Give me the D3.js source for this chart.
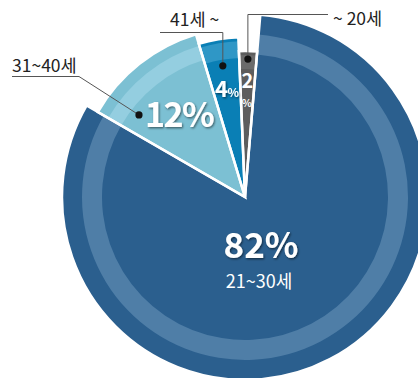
<!DOCTYPE html>
<html>
<head>
<meta charset="utf-8">
<script src="https://cdn.jsdelivr.net/npm/d3@7"></script>
<style>
  html, body { margin: 0; padding: 0; background: #fff; }
  svg { display: block; font-family: "Noto Sans CJK KR", "Noto Sans", sans-serif; }
</style>
</head>
<body>
<svg id="chart" width="418" height="378"></svg>
<script>
// Age groups and their share (%), in drawing order starting at the upper left
const categories = ["31~40세", "41세 ~", "~ 20세", "21~30세"];
const shares = [12, 4, 2, 82];

// Per-slice look: radius, lighter ring band and colours
const sliceStyles = [
  { outer: 170, bandIn: 143, bandOut: 158, fill: "#7cc0d3", band: "#94cee0" },
  { outer: 160, bandIn: 139, bandOut: 156, fill: "#0a7fb5", band: "#2f97c6" },
  { outer: 146, bandIn: 128, bandOut: 142, fill: "#5d5d5d", band: "#6b6b6b" },
  { outer: 183, bandIn: 143, bandOut: 163, fill: "#2b5f8e", band: "#4f7ea7" }
];

const cx = 245, cy = 197;
const deg = Math.PI / 180;

const svg = d3.select("#chart");

// soft drop shadow for the white percentages
const defs = svg.append("defs");
const f = defs.append("filter").attr("id", "shadow")
  .attr("x", "-20%").attr("y", "-20%").attr("width", "140%").attr("height", "140%");
f.append("feDropShadow").attr("dx", 1).attr("dy", 1.2)
  .attr("stdDeviation", 0.9).attr("flood-color", "#000").attr("flood-opacity", 0.55);

const data = categories.map((c, i) => ({ category: c, value: shares[i], style: sliceStyles[i] }));

const pie = d3.pie()
  .sort(null)
  .value(d => d.value)
  .startAngle(-60 * deg)
  .endAngle(300 * deg);

const arcs = pie(data);

const g = svg.append("g").attr("transform", `translate(${cx},${cy})`);

const sliceArc = d => d3.arc().innerRadius(0).outerRadius(d.data.style.outer)(d);
const bandArc = d => d3.arc().innerRadius(d.data.style.bandIn).outerRadius(d.data.style.bandOut)(d);
const pointAt = (d, r) => d3.arc().innerRadius(r).outerRadius(r).centroid(d);

// slice fills
g.selectAll("path.slice").data(arcs).join("path")
  .attr("class", "slice")
  .attr("d", sliceArc)
  .attr("fill", d => d.data.style.fill);

// lighter ring inside each slice
g.selectAll("path.band").data(arcs).join("path")
  .attr("class", "band")
  .attr("d", bandArc)
  .attr("fill", d => d.data.style.band);

// white separators
g.selectAll("path.edge").data(arcs).join("path")
  .attr("class", "edge")
  .attr("d", sliceArc)
  .attr("fill", "none")
  .attr("stroke", "#fff")
  .attr("stroke-width", 2.5)
  .attr("stroke-linejoin", "miter");

const [a12, a4, a2, a82] = arcs;

// ---- labels inside the slices ----
// big slice
g.append("text")
  .attr("x", 16).attr("y", 61)
  .attr("text-anchor", "middle")
  .attr("fill", "#fff")
  .attr("font-size", 35).attr("font-weight", 700)
  .attr("filter", "url(#shadow)")
  .text(`${a82.data.value}%`);
g.append("text")
  .attr("x", 14).attr("y", 91)
  .attr("text-anchor", "middle")
  .attr("fill", "#fff")
  .attr("font-size", 18)
  .text(a82.data.category);

// 12 %
const p12 = pointAt(a12, 106);
const t12 = g.append("text")
  .attr("x", p12[0]).attr("y", p12[1] + 13)
  .attr("text-anchor", "middle")
  .attr("fill", "#fff")
  .attr("font-size", 34).attr("font-weight", 700)
  .attr("letter-spacing", -1.5)
  .attr("filter", "url(#shadow)")
  .text(`${a12.data.value}%`);
const w12 = t12.node().getComputedTextLength();
const dot12 = [p12[0] - w12 / 2 - 6, p12[1] + 1];

// 4 %
const p4 = pointAt(a4, 110);
const t4 = g.append("text")
  .attr("x", p4[0]).attr("y", p4[1] + 8)
  .attr("text-anchor", "middle")
  .attr("fill", "#fff")
  .attr("font-weight", 700)
  .attr("letter-spacing", -0.5)
  .attr("filter", "url(#shadow)");
t4.append("tspan").attr("font-size", 22).text(a4.data.value);
t4.append("tspan").attr("font-size", 12).text("%");
const dot4 = pointAt(a4, 133);

// 2 %  (number stacked over the percent sign, the slice is narrow)
const p2 = pointAt(a2, 115);
g.append("text")
  .attr("x", p2[0]).attr("y", p2[1] + 6)
  .attr("text-anchor", "middle")
  .attr("fill", "#fff")
  .attr("font-size", 20).attr("font-weight", 700)
  .text(a2.data.value);
g.append("text")
  .attr("x", p2[0] - 0.5).attr("y", p2[1] + 25)
  .attr("text-anchor", "middle")
  .attr("fill", "#fff")
  .attr("font-size", 10.5).attr("font-weight", 700)
  .text("%");
const dot2 = pointAt(a2, 138);

// ---- outside labels with leader lines (page coordinates) ----
const toPage = p => [cx + p[0], cy + p[1]];
const d12 = toPage(dot12), d4 = toPage(dot4), d2 = toPage(dot2);

const lead = svg.append("g")
  .attr("fill", "none")
  .attr("stroke", "#555")
  .attr("stroke-width", 1);

// 31~40세
lead.append("polyline").attr("points", [[12, 76.5], [79, 76.5], d12].map(p => p.join(",")).join(" "));
// 41세 ~
lead.append("polyline").attr("points", [[160, 32.5], [d4[0], 32.5], d4].map(p => p.join(",")).join(" "));
// ~ 20세
lead.append("polyline").attr("points", [[328, 14.5], [d2[0], 14.5], d2].map(p => p.join(",")).join(" "));

svg.selectAll("circle.dot").data([d12, d4, d2]).join("circle")
  .attr("class", "dot")
  .attr("cx", d => d[0]).attr("cy", d => d[1])
  .attr("r", 3.6)
  .attr("fill", "#111");

const outside = [
  { text: a12.data.category, x: 12, y: 72 },
  { text: a4.data.category, x: 170, y: 26 },
  { text: a2.data.category, x: 333, y: 25 }
];
svg.selectAll("text.outer").data(outside).join("text")
  .attr("class", "outer")
  .attr("x", d => d.x).attr("y", d => d.y)
  .attr("fill", "#222")
  .attr("font-size", 17.5)
  .text(d => d.text);
</script>
</body>
</html>
